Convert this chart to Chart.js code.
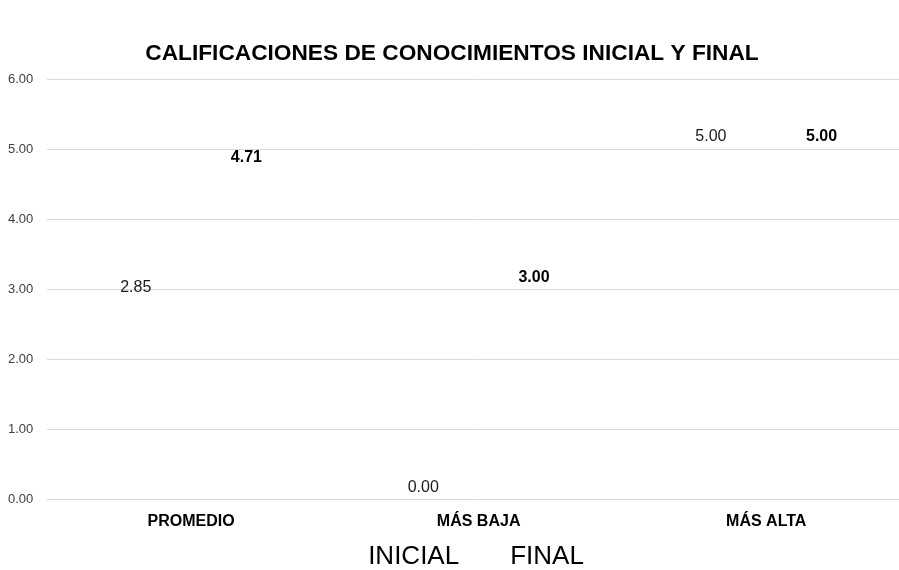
<!DOCTYPE html>
<html>
<head>
<meta charset="utf-8">
<script src="https://cdn.jsdelivr.net/npm/chart.js@4/dist/chart.umd.min.js"></script>
<style>
  html, body { margin: 0; padding: 0; background: #fff; overflow: hidden; }
  #wrap { width: 910px; height: 570px; position: relative; }
</style>
</head>
<body>
<div id="wrap"><canvas id="c"></canvas></div>
<script>
const categories = ["PROMEDIO", "MÁS BAJA", "MÁS ALTA"];
const seriesNames = ["INICIAL", "FINAL"];
const inicialValues = [2.85, 0.00, 5.00];
const finalValues = [4.71, 3.00, 5.00];
const yTicks = [0, 1, 2, 3, 4, 5, 6];

const FONT = "'Liberation Sans', Arial, sans-serif";

const valueLabels = {
  id: 'valueLabels',
  afterDatasetsDraw(chart) {
    const ctx = chart.ctx;
    ctx.save();
    ctx.textAlign = 'center';
    ctx.textBaseline = 'alphabetic';
    chart.data.datasets.forEach((ds, i) => {
      const meta = chart.getDatasetMeta(i);
      ctx.font = (i === 1 ? 'bold ' : '') + '16px ' + FONT;
      ctx.fillStyle = i === 1 ? '#000' : '#1a1a1a';
      meta.data.forEach((el, j) => {
        ctx.fillText(Number(ds.data[j]).toFixed(2), el.x, el.y - 8);
      });
    });
    ctx.restore();
  }
};

new Chart(document.getElementById('c'), {
  type: 'bar',
  data: {
    labels: categories,
    datasets: [
      { label: seriesNames[0], data: inicialValues, backgroundColor: 'rgba(0,0,0,0)', borderWidth: 0 },
      { label: seriesNames[1], data: finalValues, backgroundColor: 'rgba(0,0,0,0)', borderWidth: 0 }
    ]
  },
  options: {
    responsive: true,
    maintainAspectRatio: false,
    animation: false,
    categoryPercentage: 0.77,
    barPercentage: 0.9,
    layout: { padding: { top: 40, left: -6, right: 0, bottom: -10 } },
    plugins: {
      title: {
        display: true,
        text: 'CALIFICACIONES DE CONOCIMIENTOS INICIAL Y FINAL',
        color: '#000',
        font: { family: FONT, size: 22.7, weight: 'bold' },
        padding: { top: 0, bottom: 12 }
      },
      legend: {
        position: 'bottom',
        labels: {
          color: '#000',
          font: { family: FONT, size: 26 },
          boxWidth: 35,
          boxHeight: 20,
          padding: 3
        }
      },
      tooltip: { enabled: false }
    },
    scales: {
      x: {
        grid: { display: false },
        border: { display: false },
        afterFit(axis) { axis.height += 6; },
        ticks: { color: '#000', font: { family: FONT, size: 16, weight: 'bold' }, padding: 4 }
      },
      y: {
        min: yTicks[0],
        max: yTicks[yTicks.length - 1],
        afterBuildTicks(axis) { axis.ticks = yTicks.map(v => ({ value: v })); },
        grid: { color: '#d9d9d9', drawTicks: false, lineWidth: 1 },
        border: { display: false },
        ticks: { color: '#404040', font: { family: FONT, size: 13 }, padding: 14, callback: v => Number(v).toFixed(2) }
      }
    }
  },
  plugins: [valueLabels]
});
</script>
</body>
</html>
